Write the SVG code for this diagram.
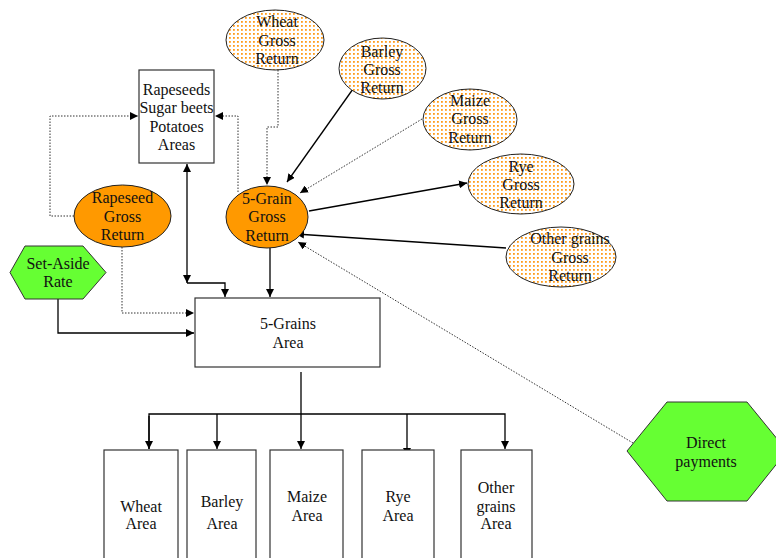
<svg xmlns="http://www.w3.org/2000/svg" width="776" height="558" viewBox="0 0 776 558" font-family="'Liberation Serif', 'Times New Roman', 'DejaVu Serif', serif">
<defs>
<pattern id="dots" width="4" height="4" patternUnits="userSpaceOnUse">
<rect width="4" height="4" fill="#ffffff"/>
<rect x="1" y="1" width="1.8" height="1.8" fill="#ff9c1a"/>
</pattern>
<marker id="ah" viewBox="0 0 10 10" refX="10" refY="5" markerWidth="8" markerHeight="8" markerUnits="userSpaceOnUse" orient="auto-start-reverse">
<path d="M0,0 L10,5 L0,10 Z" fill="#000"/>
</marker>
</defs>
<style>
text{font-family:'Liberation Serif','Times New Roman','DejaVu Serif',serif;font-size:16px;fill:#111;text-anchor:middle}
.dot{fill:url(#dots);stroke:#222;stroke-width:1}
.org{fill:#ff9900;stroke:#222;stroke-width:1}
.grn{fill:#66ff33;stroke:#333;stroke-width:1}
.box{fill:#fff;stroke:#333;stroke-width:1.2}
.s{fill:none;stroke:#000;stroke-width:1.3}
.d{fill:none;stroke:#333;stroke-width:1;stroke-dasharray:1.5,1.5}
</style>
<g id="connectors">
<path class="d" d="M278,70 L278,127 L267,127 L267,185" marker-end="url(#ah)"/>
<path class="s" d="M353,89 L287,182" marker-end="url(#ah)"/>
<path class="d" d="M422,119 L300,193" marker-end="url(#ah)"/>
<path class="s" d="M309,211 L467,183" marker-end="url(#ah)"/>
<path class="s" d="M506,248 L296,234" marker-end="url(#ah)"/>
<path class="d" d="M633,443 L298,242" marker-end="url(#ah)"/>
<path class="d" d="M238,192 L238,116 L215,116" marker-end="url(#ah)"/>
<path class="d" d="M74,216 L50,216 L50,116 L138,116" marker-end="url(#ah)"/>
<path class="s" d="M187,164 L187,283" marker-start="url(#ah)" marker-end="url(#ah)"/>
<path class="s" d="M187,283 L225,283 L225,297" marker-end="url(#ah)"/>
<path class="d" d="M122,247 L122,313 L194,313" marker-end="url(#ah)"/>
<path class="s" d="M58,299 L58,333 L194,333" marker-end="url(#ah)"/>
<path class="s" d="M270,248 L270,297" marker-end="url(#ah)"/>
<path class="s" d="M301,372 L301,449" marker-end="url(#ah)"/>
<path class="s" d="M149,449 L149,414 L505,414 L505,449" marker-end="url(#ah)"/>
<path class="s" d="M217,414 L217,449" marker-end="url(#ah)"/>
<path class="s" d="M407,414 L407,456" marker-end="url(#ah)"/>
<path class="s" d="M149,416 L149,449" marker-end="url(#ah)"/>
</g>
<g id="wheat-gross">
<ellipse class="dot" cx="275" cy="40" rx="49" ry="30"/>
<text x="277" y="27">Wheat</text><text x="277" y="46">Gross</text><text x="277" y="64">Return</text>
</g>
<g id="barley-gross">
<ellipse class="dot" cx="382.5" cy="68.5" rx="43.5" ry="30.5"/>
<text x="382" y="57">Barley</text><text x="382" y="75">Gross</text><text x="382" y="93">Return</text>
</g>
<g id="maize-gross">
<ellipse class="dot" cx="470" cy="119.5" rx="47" ry="30.5"/>
<text x="470" y="106">Maize</text><text x="470" y="124">Gross</text><text x="470" y="143">Return</text>
</g>
<g id="rye-gross">
<ellipse class="dot" cx="521" cy="184" rx="53" ry="30"/>
<text x="521" y="172">Rye</text><text x="521" y="190">Gross</text><text x="521" y="208">Return</text>
</g>
<g id="other-gross">
<ellipse class="dot" cx="561" cy="257" rx="55" ry="30"/>
<text x="570" y="244">Other grains</text><text x="570" y="263">Gross</text><text x="570" y="281">Return</text>
</g>
<g id="rapeseeds-area">
<rect class="box" x="139" y="70" width="75" height="93"/>
<text x="176.5" y="95">Rapeseeds</text><text x="176.5" y="113">Sugar beets</text><text x="176.5" y="132">Potatoes</text><text x="176.5" y="150">Areas</text>
</g>
<g id="rapeseed-gross">
<ellipse class="org" cx="122.5" cy="216" rx="48.5" ry="31"/>
<text x="122.5" y="203">Rapeseed</text><text x="122.5" y="222">Gross</text><text x="122.5" y="240">Return</text>
</g>
<g id="fivegrain-gross">
<ellipse class="org" cx="267" cy="217" rx="41" ry="31"/>
<text x="267" y="204">5-Grain</text><text x="267" y="222">Gross</text><text x="267" y="241">Return</text>
</g>
<g id="set-aside">
<polygon class="grn" points="10,272.5 25,246 83,246 106,272.5 83,299 25,299"/>
<text x="58" y="269">Set-Aside</text><text x="58" y="287">Rate</text>
</g>
<g id="fivegrains-area">
<rect class="box" x="195" y="298" width="185" height="69"/>
<text x="288" y="329">5-Grains</text><text x="288" y="348">Area</text>
</g>
<g id="direct-payments">
<polygon class="grn" points="627,451 667,402 747,402 787,451 747,501 667,501"/>
<text x="706" y="448">Direct</text><text x="706" y="467">payments</text>
</g>
<g id="wheat-area">
<rect class="box" x="104" y="450" width="74" height="120"/>
<text x="141" y="512">Wheat</text><text x="141" y="529">Area</text>
</g>
<g id="barley-area">
<rect class="box" x="187" y="450" width="69" height="120"/>
<text x="222" y="507">Barley</text><text x="222" y="529">Area</text>
</g>
<g id="maize-area">
<rect class="box" x="270" y="450" width="73" height="120"/>
<text x="307" y="502">Maize</text><text x="307" y="521">Area</text>
</g>
<g id="rye-area">
<rect class="box" x="362" y="450" width="72" height="120"/>
<text x="398" y="502">Rye</text><text x="398" y="521">Area</text>
</g>
<g id="other-area">
<rect class="box" x="461" y="450" width="71" height="120"/>
<text x="496" y="493">Other</text><text x="496" y="512">grains</text><text x="496" y="529">Area</text>
</g>
</svg>
